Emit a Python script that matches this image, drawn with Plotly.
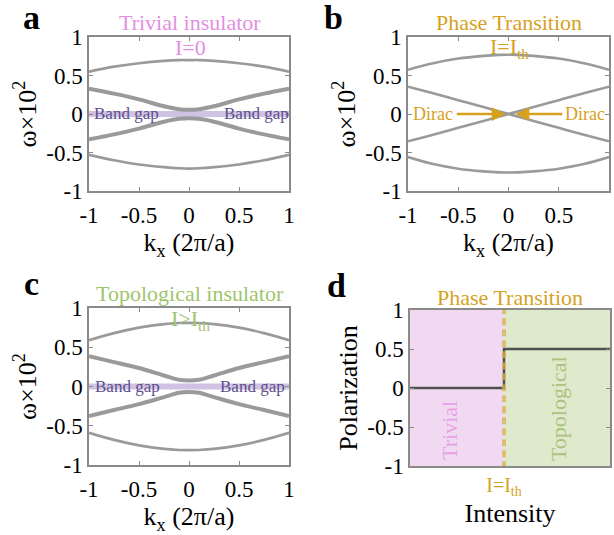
import plotly.graph_objects as go

# ---------------- data ----------------
k = [-1, -0.75, -0.5, -0.25, -0.1, 0, 0.1, 0.25, 0.5, 0.75, 1]

# panel a : trivial insulator, I = 0
a_upper = [0.55, 0.615, 0.66, 0.69, 0.70, 0.70, 0.70, 0.69, 0.66, 0.615, 0.55]
a_mid_up = [0.33, 0.265, 0.19, 0.10, 0.062, 0.055, 0.062, 0.10, 0.19, 0.265, 0.33]
a_mid_dn = [-0.33, -0.265, -0.19, -0.10, -0.062, -0.055, -0.062, -0.10, -0.19, -0.265, -0.33]
a_lower = [-0.53, -0.60, -0.655, -0.69, -0.705, -0.71, -0.705, -0.69, -0.655, -0.60, -0.53]

# panel b : phase transition, I = I_th
b_upper = [0.575, 0.66, 0.72, 0.755, 0.768, 0.77, 0.768, 0.755, 0.72, 0.66, 0.575]
b_cross1 = [0.355, 0.27, 0.18, 0.09, 0.035, 0.0, -0.035, -0.09, -0.18, -0.27, -0.355]
b_cross2 = [-0.355, -0.27, -0.18, -0.09, -0.035, 0.0, 0.035, 0.09, 0.18, 0.27, 0.355]
b_lower = [-0.56, -0.65, -0.71, -0.745, -0.758, -0.76, -0.758, -0.745, -0.71, -0.65, -0.56]

# panel c : topological insulator, I > I_th
c_upper = [0.59, 0.68, 0.75, 0.795, 0.808, 0.81, 0.808, 0.795, 0.75, 0.68, 0.59]
c_mid_up = [0.385, 0.31, 0.235, 0.14, 0.085, 0.075, 0.085, 0.14, 0.235, 0.31, 0.385]
c_mid_dn = [-0.375, -0.30, -0.225, -0.135, -0.08, -0.07, -0.08, -0.135, -0.225, -0.30, -0.375]
c_lower = [-0.59, -0.68, -0.75, -0.795, -0.808, -0.81, -0.808, -0.795, -0.75, -0.68, -0.59]

gap_k = [-1, 1]
gap_w = [0, 0]

# panel d : polarization vs intensity
I_th = 0.47
intensity = [0, I_th, I_th, 1]
polarization = [0, 0, 0.5, 0.5]

tick_vals = [-1, -0.5, 0, 0.5, 1]
tick_text = ["-1", "-0.5", "0", "0.5", "1"]

# ---------------- styles ----------------
FONT = "Liberation Serif"
GRAY = "#9a9a9a"
FRAME = "#8a8a8a"
VIOLET = "#E38EE3"
GOLD = "#D6A21E"
GREEN = "#A0C46E"
GAPTXT = "#5E4F8C"
GAPBAND = "#CFC2E2"

fig = go.Figure()


def band(x, y, xa, ya, w):
    fig.add_trace(go.Scatter(x=x, y=y, mode="lines", xaxis=xa, yaxis=ya,
                             line=dict(color=GRAY, width=w, shape="spline"),
                             showlegend=False, hoverinfo="skip"))


def gap(xa, ya):
    fig.add_trace(go.Scatter(x=gap_k, y=gap_w, mode="lines", xaxis=xa, yaxis=ya,
                             line=dict(color=GAPBAND, width=6),
                             showlegend=False, hoverinfo="skip"))


# panel a
gap("x", "y")
band(k, a_upper, "x", "y", 2.6)
band(k, a_mid_up, "x", "y", 4)
band(k, a_mid_dn, "x", "y", 4)
band(k, a_lower, "x", "y", 2.6)
# panel b
band(k, b_upper, "x2", "y2", 2.6)
band(k, b_cross1, "x2", "y2", 2.6)
band(k, b_cross2, "x2", "y2", 2.6)
band(k, b_lower, "x2", "y2", 2.6)
# panel c
gap("x3", "y3")
band(k, c_upper, "x3", "y3", 2.6)
band(k, c_mid_up, "x3", "y3", 4)
band(k, c_mid_dn, "x3", "y3", 4)
band(k, c_lower, "x3", "y3", 2.6)
# panel d
fig.add_trace(go.Scatter(x=intensity, y=polarization, mode="lines", xaxis="x4", yaxis="y4",
                         line=dict(color="#505050", width=2.5),
                         showlegend=False, hoverinfo="skip"))

tickfont = dict(family=FONT, size=23, color="black")
titlefont = dict(family=FONT, size=26, color="black")


def xax(domain, title, anchor, rng=(-1, 1), tv=tick_vals, tt=tick_text, tf=tickfont,
        ticks="inside", standoff=3):
    return dict(domain=domain, anchor=anchor, range=list(rng), tickvals=tv, ticktext=tt,
                showline=True, linecolor=FRAME, linewidth=1.5, mirror="ticks",
                ticks=ticks, ticklen=4, tickcolor=FRAME, tickwidth=1, ticklabelstandoff=standoff,
                showgrid=False, zeroline=False, tickfont=tf, automargin=False,
                title=dict(text=title, font=titlefont, standoff=0))


def yax(domain, title, anchor):
    return dict(domain=domain, anchor=anchor, range=[-1, 1], tickvals=tick_vals, ticktext=tick_text,
                showline=True, linecolor=FRAME, linewidth=1.5, mirror="ticks",
                ticks="inside", ticklen=4, tickcolor=FRAME, tickwidth=1,
                showgrid=False, zeroline=False, tickfont=tickfont, automargin=False,
                title=dict(text=title, font=titlefont, standoff=2))


W, H = 614, 535
xa_dom = [89 / W, 289 / W]
xb_dom = [408 / W, 609 / W]
xd_dom = [410 / W, 610 / W]
ytop_dom = [1 - 191 / H, 1 - 37 / H]
yc_dom = [1 - 465 / H, 1 - 308 / H]
yd_dom = [1 - 466 / H, 1 - 310 / H]

kx_title = "k<sub>x</sub> (2π/a)"
w_title = "ω×10<sup>2</sup>"

fig.update_layout(
    width=W, height=H,
    margin=dict(l=0, r=0, t=0, b=0, autoexpand=False),
    paper_bgcolor="white", plot_bgcolor="white",
    font=dict(family=FONT, color="black"),
    xaxis=xax(xa_dom, kx_title, "y"),
    yaxis=yax(ytop_dom, w_title, "x"),
    xaxis2=xax(xb_dom, kx_title, "y2"),
    yaxis2=yax(ytop_dom, w_title, "x2"),
    xaxis3=xax(xa_dom, kx_title, "y3"),
    yaxis3=yax(yc_dom, w_title, "x3"),
    xaxis4=xax(xd_dom, "Intensity", "y4", rng=(0, 1), tv=[I_th], tt=["I=I<sub>th</sub>"],
               tf=dict(family=FONT, size=20, color=GOLD), ticks="", standoff=0),
    yaxis4=yax(yd_dom, "Polarization", "x4"),
)

# panel d background regions and threshold line
fig.add_shape(type="rect", xref="x4", yref="y4", x0=0, x1=I_th, y0=-1, y1=1,
              fillcolor="#F1D9F2", line=dict(width=0), layer="below")
fig.add_shape(type="rect", xref="x4", yref="y4", x0=I_th, x1=1, y0=-1, y1=1,
              fillcolor="#DFE9CB", line=dict(width=0), layer="below")
fig.add_shape(type="line", xref="x4", yref="y4", x0=I_th, x1=I_th, y0=-1.03, y1=1.03,
              line=dict(color="rgba(218,178,80,0.75)", width=4, dash="7px,4px"))

ann = []


def txt(x, y, s, size, color, xref="paper", yref="paper", bold=False, angle=0, xanchor="center"):
    ann.append(dict(x=x, y=y, xref=xref, yref=yref, text=("<b>%s</b>" % s) if bold else s,
                    showarrow=False, textangle=angle, xanchor=xanchor, yanchor="middle",
                    font=dict(family=FONT, size=size, color=color)))


# panel letters
txt(31 / W, 1 - 18 / H, "a", 34, "black", bold=True)
txt(333 / W, 1 - 18 / H, "b", 34, "black", bold=True)
txt(31 / W, 1 - 283 / H, "c", 34, "black", bold=True)
txt(336 / W, 1 - 285 / H, "d", 34, "black", bold=True)

# panel titles
txt(190 / W, 1 - 23 / H, "Trivial insulator", 22, VIOLET)
txt(190 / W, 1 - 48 / H, "I=0", 22, VIOLET)
txt(509 / W, 1 - 22 / H, "Phase Transition", 22, GOLD)
txt(509 / W, 1 - 48 / H, "I=I<sub>th</sub>", 22, GOLD)
txt(190 / W, 1 - 293 / H, "Topological insulator", 22, GREEN)
txt(190 / W, 1 - 320 / H, "I>I<sub>th</sub>", 22, GREEN)
txt(510 / W, 1 - 297 / H, "Phase Transition", 22, GOLD)

# band gap labels
txt(-0.63, 0, "Band gap", 17, GAPTXT, xref="x", yref="y")
txt(0.67, 0, "Band gap", 17, GAPTXT, xref="x", yref="y")
txt(-0.62, 0, "Band gap", 17, GAPTXT, xref="x3", yref="y3")
txt(0.63, 0, "Band gap", 17, GAPTXT, xref="x3", yref="y3")

# Dirac labels and arrows
txt(-0.755, 0, "Dirac", 18, GOLD, xref="x2", yref="y2")
txt(0.765, 0, "Dirac", 18, GOLD, xref="x2", yref="y2")
ann.append(dict(x=-0.03, y=0, ax=-0.53, ay=0, xref="x2", yref="y2", axref="x2", ayref="y2",
                text="", showarrow=True, arrowhead=2, arrowsize=1.1, arrowwidth=2.5, arrowcolor=GOLD))
ann.append(dict(x=0.07, y=0, ax=0.55, ay=0, xref="x2", yref="y2", axref="x2", ayref="y2",
                text="", showarrow=True, arrowhead=2, arrowsize=1.1, arrowwidth=2.5, arrowcolor=GOLD))

# phase labels in panel d
txt(0.2, -0.55, "Trivial", 22, "#E7A2E7", xref="x4", yref="y4", angle=-90)
txt(0.74, -0.27, "Topological", 22, "#A9C47F", xref="x4", yref="y4", angle=-90)

fig.update_layout(annotations=ann)

fig.write_html("out.html", config={"displayModeBar": False},
               post_script="document.body.style.margin='0px';")
